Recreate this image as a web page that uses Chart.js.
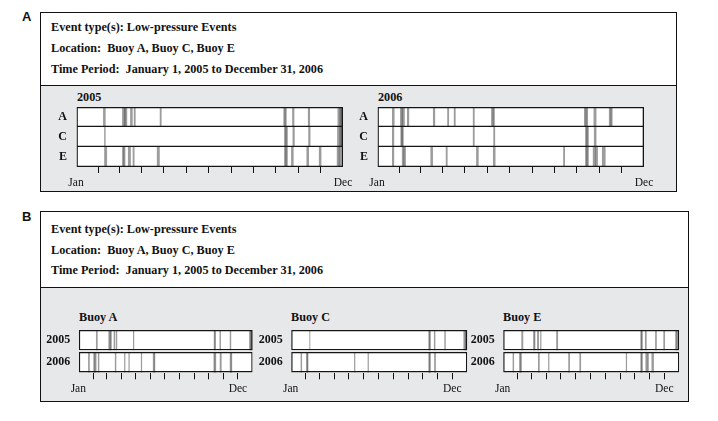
<!DOCTYPE html>
<html><head><meta charset="utf-8">
<script src="https://cdn.jsdelivr.net/npm/chart.js@4"></script>
<style>
body{margin:0;width:718px;height:421px;background:#fff;position:relative;overflow:hidden;font-family:"Liberation Serif","Times New Roman",serif;color:#111;}
.panel{position:absolute;box-sizing:border-box;border:1px solid #111;background:#e7e8ea;}
.head{position:absolute;left:0;top:0;right:0;background:#fff;border-bottom:1px solid #111;}
.t{position:absolute;font-weight:bold;font-size:12.2px;line-height:14px;white-space:pre;}
.plab{position:absolute;font-family:"Liberation Sans",Arial,sans-serif;font-weight:bold;font-size:13px;line-height:14px;}
canvas{position:absolute;}
</style></head><body>
<div class="plab" style="left:22px;top:10px">A</div>
<div class="panel" style="left:40px;top:12px;width:637px;height:180px"><div class="head" style="height:72px"></div></div>
<div class="t" style="left:51px;top:20px">Event type(s): Low-pressure Events</div>
<div class="t" style="left:51px;top:41px">Location:  Buoy A, Buoy C, Buoy E</div>
<div class="t" style="left:51px;top:62px">Time Period:  January 1, 2005 to December 31, 2006</div>
<div class="t" style="left:77px;top:90px">2005</div>
<div class="t" style="left:378px;top:90px">2006</div>
<canvas id="cA05" width="320" height="95" style="left:40px;top:100px"></canvas>
<canvas id="cA06" width="320" height="95" style="left:340px;top:100px"></canvas>

<div class="plab" style="left:22px;top:210px">B</div>
<div class="panel" style="left:40px;top:211px;width:649px;height:191px"><div class="head" style="height:75px"></div></div>
<div class="t" style="left:51px;top:222px">Event type(s): Low-pressure Events</div>
<div class="t" style="left:51px;top:243px">Location:  Buoy A, Buoy C, Buoy E</div>
<div class="t" style="left:51px;top:263px">Time Period:  January 1, 2005 to December 31, 2006</div>
<div class="t" style="left:79px;top:310px">Buoy A</div>
<div class="t" style="left:291px;top:310px">Buoy C</div>
<div class="t" style="left:503px;top:310px">Buoy E</div>
<canvas id="cBA" width="230" height="75" style="left:40px;top:322px"></canvas>
<canvas id="cBC" width="230" height="75" style="left:252px;top:322px"></canvas>
<canvas id="cBE" width="230" height="75" style="left:464px;top:322px"></canvas>
<script>
const SERIF = '"Liberation Serif","Times New Roman",serif';
const monthStartDays = [0,31,59,90,120,151,181,212,243,273,304,334,365];
const buoyRows = ['A','C','E'];
const yearRows = ['2005','2006'];
// event intervals, [start day, end day] of year
const buoyA2005 = [[37,40.5],[63,68],[65.5,70],[74,77.5],[79,81.5],[114.5,117],[283.5,286.5],[285,288],[295.5,298.5],[317,320],[357.5,364],[360,365]];
const buoyC2005 = [[38.5,40.5],[284.5,288],[286,289.5],[296,299],[317.5,320.5],[357,364],[360,365]];
const buoyE2005 = [[38.5,42.5],[63,66],[64.5,67.5],[71,75],[77.5,80],[110.5,114.5],[284.5,288],[286,289.5],[294,297.5],[315,318.5],[332,335.5],[356.5,360.5],[359,363]];
const buoyA2006 = [[20.5,24],[31.5,35.5],[33.5,38],[41,44],[76.5,79.5],[96,98.5],[105,107.5],[131,133.5],[156,159.5],[158,161],[283,286.5],[285,288.5],[296,300],[317,320.5],[319,322]];
const buoyC2006 = [[20.5,23.5],[32,35.5],[33,36.5],[131,133.5],[159,161.5],[284.5,288],[286,289.5],[296.5,300]];
const buoyE2006 = [[20.5,23.5],[34,37.5],[36,39.5],[73,76.5],[94,96.5],[135.5,139],[158.5,162],[254.5,257],[284.5,288],[286,289.5],[295,299],[298,302],[307.5,312.5]];

function strip(id, rows, series, g) {
  const events = [];
  rows.forEach((r, i) => series[i].forEach(ev => events.push({x: ev, y: r})));
  const full = rows.map(r => ({x: [0, 365], y: r}));
  const bw = 1.3;
  new Chart(document.getElementById(id), {
    type: 'bar',
    data: {labels: rows, datasets: [
      {data: full, backgroundColor: 'rgba(0,0,0,0)', borderColor: '#151515', borderSkipped: false,
       borderWidth: ctx => (g.cat === 1 && ctx.dataIndex > 0) ? {top: 0, left: bw, right: bw, bottom: bw} : bw},
      {data: events, backgroundColor: 'rgba(90,90,90,0.6)', borderWidth: 0},
      {data: full, backgroundColor: '#ffffff', borderWidth: 0}
    ]},
    options: {
      indexAxis: 'y', responsive: false, animation: false, devicePixelRatio: 1, events: [],
      datasets: {bar: {grouped: false, barPercentage: 1, categoryPercentage: g.cat, inflateAmount: 0}},
      layout: {autoPadding: false, padding: {left: 0, right: g.pr, top: g.pt, bottom: 0}},
      plugins: {legend: {display: false}, tooltip: {enabled: false}, title: {display: false}},
      scales: {
        y: {type: 'category', labels: rows, offset: true,
            grid: {display: false, drawTicks: false}, border: {display: false},
            ticks: {autoSkip: false, padding: g.yp, color: '#111', font: {family: SERIF, weight: 'bold', size: 12}},
            afterFit: s => { s.width = g.yw; s.paddingTop = 0; s.paddingBottom = 0; s.paddingLeft = 0; s.paddingRight = 0; }},
        x: {type: 'linear', min: 0, max: 365, border: {display: false},
            grid: {drawOnChartArea: false, drawTicks: true, tickLength: 6, tickWidth: 1,
                   tickColor: ctx => (ctx.index === 0 || ctx.index === monthStartDays.length - 1) ? 'rgba(0,0,0,0)' : '#111'},
            afterBuildTicks: s => { s.ticks = monthStartDays.map(v => ({value: v})); },
            ticks: {autoSkip: false, maxRotation: 0, minRotation: 0, padding: g.xp, color: '#111',
                    font: {family: SERIF, size: 11.5},
                    callback: (v, i) => i === 0 ? 'Jan' : (i === g.decIdx ? 'Dec' : '')},
            afterFit: s => { s.height = g.xh; s.paddingTop = 0; s.paddingBottom = 0; s.paddingLeft = 0; s.paddingRight = 0; }}
      }
    }
  });
}

strip('cA05', buoyRows, [buoyA2005, buoyC2005, buoyE2005], {yw: 36, pr: 17, pt: 7, xh: 28, yp: 9, xp: 3, cat: 1, decIdx: 12});
strip('cA06', buoyRows, [buoyA2006, buoyC2006, buoyE2006], {yw: 37, pr: 16, pt: 7, xh: 28, yp: 9, xp: 3, cat: 1, decIdx: 12});
strip('cBA', yearRows, [buoyA2005, buoyA2006], {yw: 38.3, pr: 17.3, pt: 7, xh: 23.7, yp: 8, xp: 3, cat: 0.92, decIdx: 11});
strip('cBC', yearRows, [buoyC2005, buoyC2006], {yw: 38.7, pr: 14.7, pt: 7, xh: 23.7, yp: 8, xp: 3, cat: 0.92, decIdx: 11});
strip('cBE', yearRows, [buoyE2005, buoyE2006], {yw: 38.7, pr: 14.7, pt: 7, xh: 23.7, yp: 8, xp: 3, cat: 0.92, decIdx: 11});
</script>
</body></html>
